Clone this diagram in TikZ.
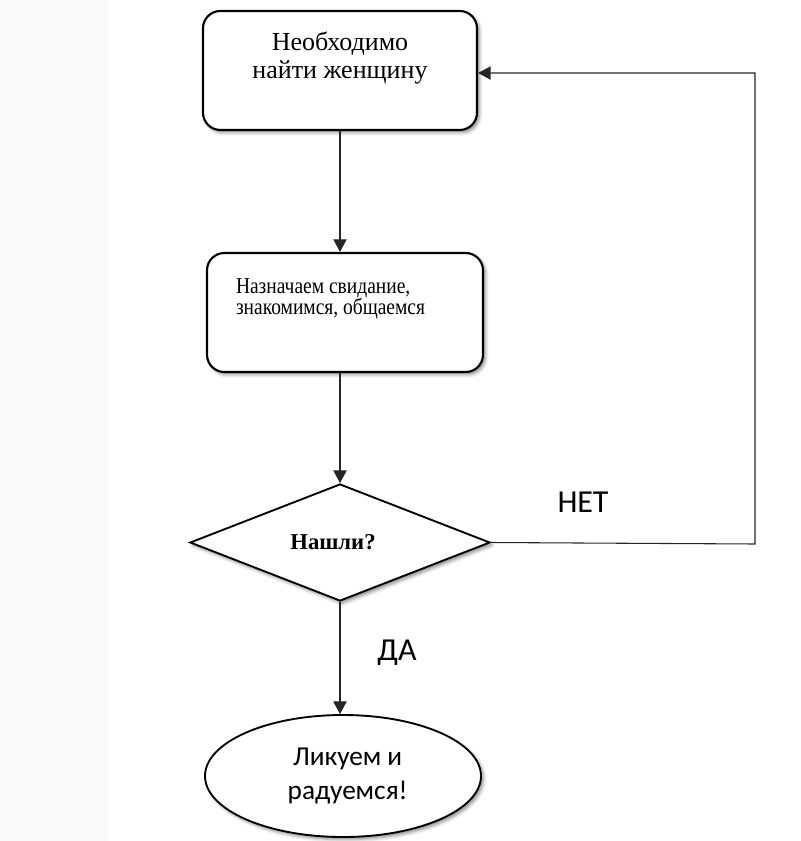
\documentclass[tikz,border=0pt]{standalone}
\usepackage{fontspec}
\setmainfont{Liberation Serif}
\newfontfamily\calib{Carlito}
\newfontfamily\narrowserif[FakeStretch=0.86]{Liberation Serif}
\usetikzlibrary{shapes.geometric,arrows.meta,shadows.blur}
\begin{document}
\begin{tikzpicture}[x=0.75pt,y=-0.75pt,
  shad/.style={blur shadow={shadow xshift=1.8pt,shadow yshift=-2pt,shadow blur radius=2.5pt,shadow opacity=45}},
  box/.style={draw,line width=1.6pt,rounded corners=13pt,fill=white,inner sep=0pt,shad},
  decision/.style={draw,diamond,line width=1.4pt,fill=white,inner sep=0pt,shad,
    minimum width=225pt,minimum height=87.75pt,font=\fontsize{17}{19}\selectfont\bfseries},
  terminal/.style={draw,ellipse,line width=1.4pt,fill=white,inner sep=0pt,shad,
    minimum width=207pt,minimum height=91.5pt,align=center,font=\calib\fontsize{20.5}{25.5}\selectfont},
  conn/.style={line width=0.8pt,draw=black!85,-{Triangle[length=9.5pt,width=10pt]}},
  lab/.style={font=\calib\fontsize{24}{28}\selectfont,inner sep=0pt,anchor=base}]
\useasboundingbox (0,0) rectangle (800,841);
\fill[black!2] (0,0) rectangle (108,841);

\node[box] (b1) at (340,70.5) {\parbox[c][89.25pt][t]{205.5pt}{\centering\fontsize{19.5}{21}\selectfont\rule{0pt}{30pt}Необходимо\\найти женщину}};
\node[box] (b2) at (345,312.5) {\parbox[c][89.25pt][t]{207pt}{\raggedright\leftskip=21.75pt\narrowserif\fontsize{17}{16.5}\selectfont\rule{0pt}{30pt}Назначаем свидание,\\знакомимся, общаемся}};
\node[decision] (d) at (340,542.5) {Нашли?\kern10.5pt};
\node[terminal] (e) at (343,776) {\kern7pt Ликуем и\\\kern7pt радуемся!};

\node[lab] (no) at (583,512) {НЕТ};
\node[lab] (yes) at (397,660) {ДА};

\coordinate (c1) at (755,544);
\coordinate (c2) at (755,73);

\draw[conn] (b1.south) -- (b1.south |- b2.north);
\draw[conn] (d.north |- b2.south) -- (d.north);
\draw[conn] (d.south) -- (d.south |- e.north);
\draw[conn] (d.east) -- (c1) -- (c2) -- (c2 -| b1.east);
\end{tikzpicture}
\end{document}
